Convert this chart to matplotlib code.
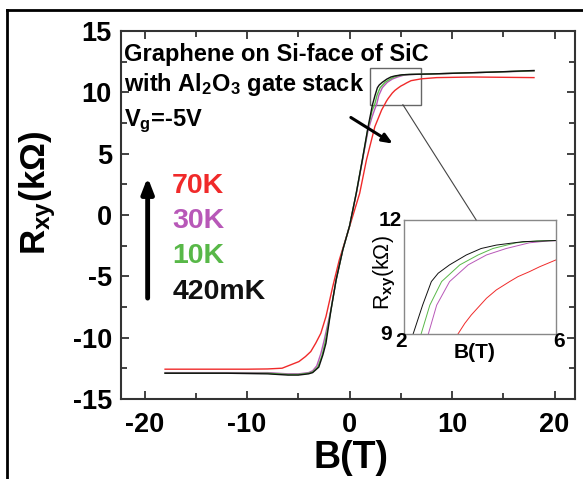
import numpy as np
import matplotlib.pyplot as plt
from matplotlib.patches import Rectangle, ConnectionPatch
from matplotlib.lines import Line2D

plt.rcParams['font.family'] = ['Liberation Sans', 'DejaVu Sans']
plt.rcParams['font.weight'] = 'bold'
plt.rcParams['mathtext.fontset'] = 'custom'
plt.rcParams['mathtext.rm'] = 'Liberation Sans:bold'
plt.rcParams['mathtext.it'] = 'Liberation Sans:bold'
plt.rcParams['mathtext.bf'] = 'Liberation Sans:bold'
plt.rcParams['axes.unicode_minus'] = False

# Hall resistance R_xy (kOhm) vs B (T)
B_420mK = [-18, -12, -8, -6, -5, -4, -3.6, -3.0, -2.6, -2.3, -1.81, -1.31, -0.66, 0, 0.66, 1.25, 1.81,
           2.24, 2.49, 2.72, 2.9, 3.2, 3.64, 4.03, 4.43, 5.13, 6, 8, 10, 14, 18]
R_420mK = [-12.9, -12.9, -12.95, -13.05, -13.05, -12.95, -12.85, -12.4, -11.4, -10.45, -7.74, -5.29, -2.85, -0.9, 1.8, 4.5, 7.2,
           9.0, 9.76, 10.38, 10.6, 10.82, 11.08, 11.25, 11.34, 11.43, 11.46, 11.5, 11.55, 11.65, 11.78]

B_10K = [-18, -12, -8, -6, -5, -4, -3.6, -3.1, -2.7, -2.4, -1.81, -1.31, -0.66, 0, 0.66, 1.25, 1.81,
         2.2, 2.45, 2.68, 2.99, 3.47, 3.95, 4.34, 4.95, 5.5, 8, 10, 14, 18]
R_10K = [-12.9, -12.9, -12.9, -13.0, -13.0, -12.9, -12.8, -12.4, -11.5, -10.45, -7.74, -5.3, -2.85, -0.9, 1.8, 4.5, 7.1,
         8.5, 9.0, 9.76, 10.38, 10.82, 11.08, 11.25, 11.4, 11.45, 11.5, 11.55, 11.65, 11.76]

B_30K = [-18, -12, -8, -6, -5, -4, -3.6, -3.2, -2.8, -2.5, -1.81, -1.31, -0.66, 0, 0.66, 1.25, 1.81,
         2.2, 2.45, 2.64, 2.86, 3.2, 3.69, 4.17, 4.69, 5.3, 5.8, 8, 10, 14, 18]
R_30K = [-12.85, -12.85, -12.85, -12.95, -12.95, -12.85, -12.7, -12.3, -11.3, -10.3, -7.7, -5.3, -2.85, -0.9, 1.75, 4.4, 6.9,
         8.0, 8.6, 9.0, 9.76, 10.38, 10.82, 11.08, 11.25, 11.4, 11.45, 11.5, 11.55, 11.65, 11.74]

B_70K = [-18, -10, -8, -6.58, -4.94, -4.3, -3.78, -3.3, -2.8, -2.3, -1.64, -1.0, 0, 0.99, 1.65, 2.47, 3.13,
         3.42, 3.6, 3.77, 3.97, 4.17, 4.43, 4.78, 5.0, 5.3, 5.57, 6, 7, 8.5, 12, 18]
R_70K = [-12.57, -12.57, -12.55, -12.49, -11.95, -11.54, -11.13, -10.45, -9.64, -8.28, -5.84, -3.66, -0.95, 1.77, 4.49, 7.2, 8.56,
         9.0, 9.28, 9.5, 9.72, 9.94, 10.16, 10.38, 10.51, 10.64, 10.77, 10.95, 11.1, 11.2, 11.25, 11.2]

curves = [
    (B_70K, R_70K, '#f02a2a', '70K'),
    (B_30K, R_30K, '#b858b8', '30K'),
    (B_10K, R_10K, '#58b848', '10K'),
    (B_420mK, R_420mK, '#111111', '420mK'),
]

fig = plt.figure(figsize=(5.83, 4.79), dpi=100)
ax = fig.add_axes([121/583, 1-399/479, 454/583, 368/479])

for b, r, c, lab in curves:
    ax.plot(b, r, color=c, lw=1.0)

ax.set_xlim(-22.3, 22.0)
ax.set_ylim(-15, 15)
ax.set_xticks([-20, -10, 0, 10, 20])
ax.set_xticks([-15, -5, 5, 15], minor=True)
ax.set_yticks([-15, -10, -5, 0, 5, 10, 15])
ax.set_yticks(np.arange(-12.5, 15, 5), minor=True)
ax.tick_params(which='both', direction='in', top=True, right=True, width=1.3, color='#333333')
ax.tick_params(which='major', length=6, labelsize=19.5)
ax.tick_params(axis='y', which='major', pad=6.5)
ax.tick_params(axis='x', which='major', pad=9)
ax.tick_params(which='minor', length=4)
for s in ax.spines.values():
    s.set_linewidth(1.5)
    s.set_color('#333333')
for lbl in ax.get_xticklabels() + ax.get_yticklabels():
    lbl.set_fontweight('bold')

fig.text(351/583, 1-458/479, 'B(T)', fontsize=27, fontweight='bold', ha='center', va='center')
fig.text(38/583, 1-193/479, r'R$_{\mathrm{xy}}$(kΩ)', fontsize=25, fontweight='bold',
         rotation=90, ha='center', va='center')

ax.text(-22.0, 13.1, 'Graphene on Si-face of SiC', fontsize=17, fontweight='bold', va='center')
ax.text(-22.0, 10.6, r'with Al$_2$O$_3$ gate stack', fontsize=17, fontweight='bold', va='center')
ax.text(-22.0, 7.6, r'V$_\mathrm{g}$=-5V', fontsize=17, fontweight='bold', va='center')

label_y = [2.37, -0.49, -3.34, -6.27]
for (b, r, c, lab), yy in zip(curves, label_y):
    ax.text(-17.3, yy, lab, color=c, fontsize=20.5, fontweight='bold', va='center')

ax.annotate('', xy=(-19.7, 3.3), xytext=(-19.7, -7.0),
            arrowprops=dict(arrowstyle='-|>,head_length=0.9,head_width=0.35', lw=3.5, color='black'))
ax.annotate('', xy=(4.45, 5.7), xytext=(-0.1, 8.07),
            arrowprops=dict(arrowstyle='-|>,head_length=0.6,head_width=0.25', lw=2.2, color='black'))

ax.add_patch(Rectangle((2, 9), 5, 3, fill=False, edgecolor='#666666', lw=1.0))

# inset
axi = fig.add_axes([404/583, 1-334/479, 152/583, 114/479])
for b, r, c, lab in curves:
    axi.plot(b, r, color=c, lw=0.7)
axi.set_xlim(2, 6)
axi.set_ylim(9, 12)
axi.set_xticks([])
axi.set_yticks([])
for s in axi.spines.values():
    s.set_linewidth(1.0)
    s.set_color('#888888')
axi.text(-0.013, 1.0, '12', transform=axi.transAxes, fontsize=15, fontweight='bold', ha='right', va='center')
axi.text(-0.08, 0.0, '9', transform=axi.transAxes, fontsize=15, fontweight='bold', ha='right', va='center')
axi.text(-0.02, -0.07, '2', transform=axi.transAxes, fontsize=15, fontweight='bold', ha='center', va='center')
axi.text(1.02, -0.07, '6', transform=axi.transAxes, fontsize=15, fontweight='bold', ha='center', va='center')
axi.text(0.467, -0.16, 'B(T)', transform=axi.transAxes, fontsize=15, fontweight='bold', ha='center', va='center')
axi.text(-0.125, 0.535, r'R$_{\mathrm{xy}}$(kΩ)', transform=axi.transAxes, fontsize=15.5,
         fontweight='normal', rotation=90, ha='center', va='center')

con = ConnectionPatch(xyA=(5.2, 9), coordsA=ax.transData, xyB=(3.9, 12), coordsB=axi.transData,
                      color='#444444', lw=0.8)
fig.add_artist(con)

# outer frame (left and top edges only)
fig.add_artist(Line2D([7/583, 7/583], [0, 1-10/479], transform=fig.transFigure, color='black', lw=2))
fig.add_artist(Line2D([7/583, 1], [1-10/479, 1-10/479], transform=fig.transFigure, color='black', lw=2))

fig.savefig('out.png', dpi=100)
